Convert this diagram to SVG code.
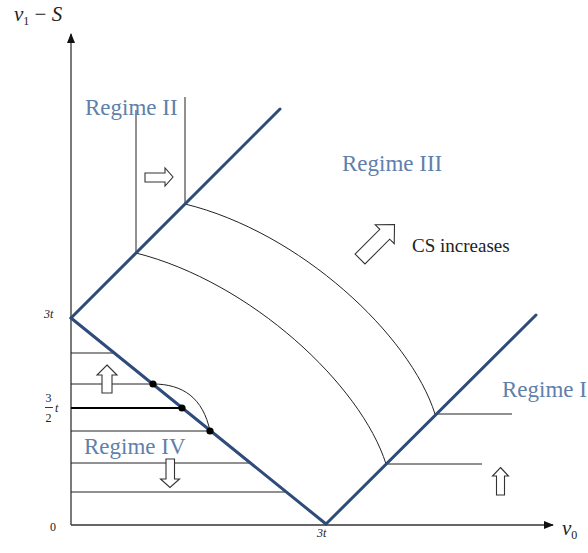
<svg xmlns="http://www.w3.org/2000/svg" width="588" height="553" viewBox="0 0 588 553">
<style>
.ax{stroke:#333;stroke-width:1.3;fill:none}
.thin{stroke:#222;stroke-width:1;fill:none}
.blue{stroke:#2e4b7a;stroke-width:3;fill:none;stroke-linecap:round}
.blk{stroke:#000;stroke-width:2;fill:none}
.arr{fill:#fff;stroke:#333;stroke-width:1.1}
.reg{font-family:"Liberation Serif",serif;font-size:23px;fill:#5f80aa}
.math{font-family:"Liberation Serif",serif;fill:#222}
</style>
<defs>
<marker id="ah" markerWidth="10" markerHeight="8" refX="9" refY="4" orient="auto" markerUnits="userSpaceOnUse">
<path d="M0,0 L10,4 L0,8 Z" fill="#111"/>
</marker>
</defs>
<rect width="588" height="553" fill="#fff"/>
<g id="connectors">
<path class="ax" d="M71,525 V34" marker-end="url(#ah)"/>
<path class="ax" d="M71,525 H553" marker-end="url(#ah)"/>
<path class="thin" d="M136,110 V253"/>
<path class="thin" d="M185,97 V204"/>
<path class="thin" d="M185,204 C300,232 410,335 435,414"/>
<path class="thin" d="M136,253 C251,282 361,385 386,464"/>
<path class="thin" d="M435,414 H512"/>
<path class="thin" d="M386,464 H482"/>
<path class="thin" d="M71,353 H115"/>
<path class="thin" d="M71,384 H153"/>
<path class="blk" d="M71,408 H182"/>
<path class="thin" d="M71,431 H210"/>
<path class="thin" d="M71,463 H251"/>
<path class="thin" d="M71,492 H287"/>
<path class="thin" stroke="#555" d="M153,384 C183,384 203,398 210,431"/>
<path class="blue" d="M71,318 L280,109"/>
<path class="blue" d="M71,318 L326,524"/>
<path class="blue" d="M326,524 L536,315"/>
</g>
<g id="dots" fill="#000">
<circle cx="153" cy="384" r="3.6"/>
<circle cx="182" cy="408" r="3.6"/>
<circle cx="210" cy="431" r="3.6"/>
</g>
<g id="arrows">
<path class="arr" d="M145,173 H165 V168 L173,177 L165,186 V182 H145 Z"/>
<path class="arr" d="M107,365 L117,375 H112 V393 H102 V375 H97 Z"/>
<path class="arr" d="M166,459 H174.5 V479 H179.5 L170,487.5 L160.5,479 H166 Z"/>
<path class="arr" d="M500.5,467.5 L508.5,476 H504.5 V495 H496.5 V476 H492.5 Z"/>
<path class="arr" transform="translate(360,259) rotate(-45)" d="M0,-7 H35 V-13.4 L48.8,0 L35,13.4 V7 H0 Z"/>
</g>
<g id="labels">
<text class="reg" x="85" y="115">Regime II</text>
<text class="reg" x="342" y="171">Regime III</text>
<text class="reg" x="502" y="397">Regime I</text>
<text class="reg" x="84" y="454">Regime IV</text>
<text class="math" x="412" y="252" font-family="Liberation Serif, serif" font-size="19" fill="#111">CS increases</text>
<text class="math" x="14" y="21" font-size="21"><tspan font-style="italic">v</tspan><tspan font-size="12" dy="4">1</tspan><tspan dy="-4"> − </tspan><tspan font-style="italic">S</tspan></text>
<text class="math" x="562" y="535" font-size="21"><tspan font-style="italic">v</tspan><tspan font-size="12" dy="4">0</tspan></text>
<text class="math" x="44" y="318" font-size="12" font-style="italic">3t</text>
<text class="math" x="317" y="537" font-size="12" font-style="italic">3t</text>
<text class="math" x="50" y="531" font-size="12">0</text>
<text class="math" x="45.5" y="402" font-size="12">3</text>
<path d="M45,407.5 H53" stroke="#222" stroke-width="0.9"/>
<text class="math" x="45.5" y="422" font-size="12">2</text>
<text class="math" x="55" y="412" font-size="12" font-style="italic">t</text>
</g>
</svg>
